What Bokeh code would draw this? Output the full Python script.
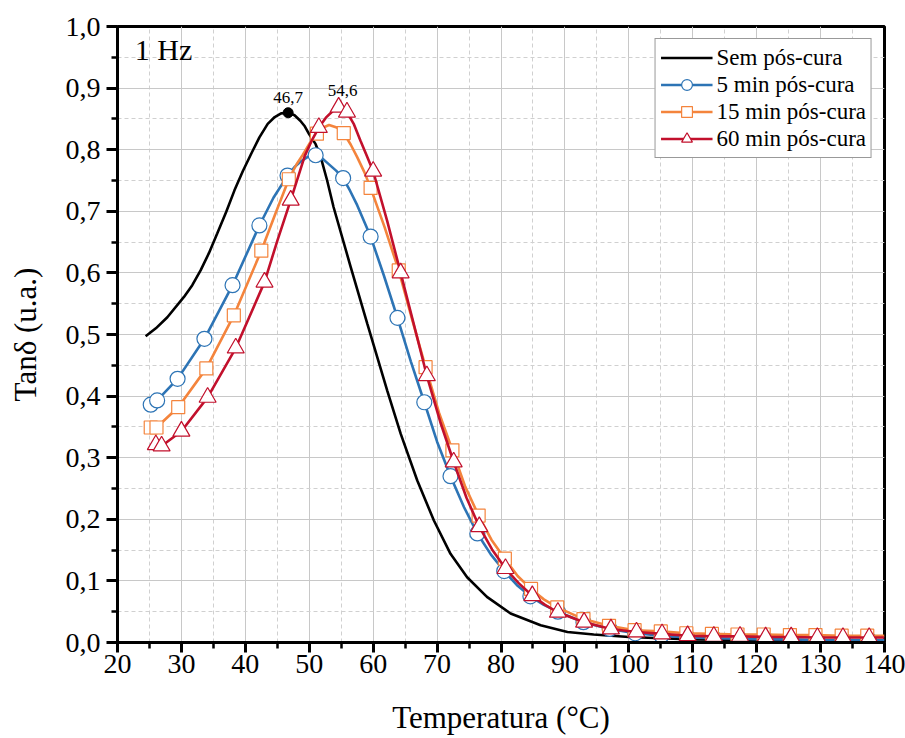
from bokeh.plotting import figure
from bokeh.models import FixedTicker, CustomJSTickFormatter, Legend, LegendItem, Label
from bokeh.embed import file_html
from bokeh.resources import INLINE
from bokeh.core.properties import value

# ---------------- data ----------------
x_ticks = [20, 30, 40, 50, 60, 70, 80, 90, 100, 110, 120, 130, 140]
x_minor = [25, 35, 45, 55, 65, 75, 85, 95, 105, 115, 125, 135]
y_ticks = [0.0, 0.1, 0.2, 0.3, 0.4, 0.5, 0.6, 0.7, 0.8, 0.9, 1.0]
y_minor = [0.05, 0.15, 0.25, 0.35, 0.45, 0.55, 0.65, 0.75, 0.85, 0.95]

series_labels = ["Sem pós-cura", "5 min pós-cura", "15 min pós-cura", "60 min pós-cura"]

# Sem pós-cura (line only)
sem_x = [24.4, 26.0, 27.8, 30.4, 31.7, 33.0, 34.3, 35.6, 37.0, 38.3,
         39.6, 40.9, 42.2, 43.5, 44.6, 45.6, 46.7, 47.7, 48.6, 49.3,
         50.0, 51.0, 51.8, 52.8, 53.8, 56.5, 59.1, 62.2, 64.3, 66.9,
         69.5, 72.1, 74.7, 77.8, 81.5, 86.2, 90.4, 94.5, 100, 105,
         110, 120, 130, 140]
sem_y = [0.497, 0.510, 0.528, 0.561, 0.580, 0.604, 0.632, 0.664, 0.699, 0.734,
         0.765, 0.793, 0.820, 0.842, 0.853, 0.859, 0.860, 0.856, 0.847, 0.838,
         0.825, 0.809, 0.788, 0.750, 0.707, 0.609, 0.517, 0.409, 0.339, 0.263,
         0.198, 0.144, 0.106, 0.074, 0.047, 0.028, 0.017, 0.013, 0.009, 0.007,
         0.005, 0.004, 0.003, 0.003]
sem_peak_x = [46.7]
sem_peak_y = [0.860]

# 5 min pós-cura (markers)
m5_x = [25.2, 26.2, 29.4, 33.6, 38.0, 42.2, 46.6, 51.0, 55.3, 59.6,
        63.8, 68.0, 72.1, 76.3, 80.5, 84.6, 88.9, 92.9, 97.0, 101.0,
        105.1, 109.2, 113.3, 117.3, 121.4, 125.4, 129.5, 133.5, 137.6]
m5_y = [0.386, 0.393, 0.428, 0.493, 0.580, 0.677, 0.758, 0.791, 0.754, 0.659,
        0.527, 0.390, 0.270, 0.177, 0.116, 0.075, 0.050, 0.033, 0.022, 0.015,
        0.011, 0.008, 0.007, 0.006, 0.005, 0.005, 0.004, 0.004, 0.004]
# 5 min pós-cura, extra points of the curve between markers
m5_extra_x = [44.4, 47.7, 48.8, 49.9, 52.0, 53.0, 54.2, 56.4, 57.5, 61.7,
              65.9, 70.0, 74.2, 78.4, 82.5, 86.7, 140.0]
m5_extra_y = [0.722, 0.772, 0.782, 0.789, 0.786, 0.777, 0.766, 0.733, 0.710, 0.595,
              0.456, 0.326, 0.220, 0.143, 0.093, 0.061, 0.004]

# 15 min pós-cura (markers)
m15_x = [25.2, 26.1, 29.5, 33.9, 38.2, 42.5, 46.8, 51.2, 55.4, 59.6,
         64.0, 68.2, 72.4, 76.5, 80.6, 84.7, 88.8, 92.9, 96.9, 100.9,
         105.0, 109.0, 113.0, 117.0, 121.1, 125.2, 129.2, 133.3, 137.3]
m15_y = [0.349, 0.349, 0.382, 0.445, 0.531, 0.636, 0.752, 0.826, 0.827, 0.738,
         0.604, 0.447, 0.312, 0.206, 0.136, 0.087, 0.057, 0.038, 0.027, 0.020,
         0.018, 0.015, 0.014, 0.013, 0.013, 0.012, 0.012, 0.011, 0.011]
m15_extra_x = [44.7, 48.0, 49.0, 50.1, 52.2, 53.1, 54.3, 56.5, 57.5, 58.6,
               61.8, 66.1, 70.3, 74.4, 78.5, 82.6, 86.7, 140.0]
m15_extra_y = [0.696, 0.776, 0.792, 0.811, 0.836, 0.840, 0.836, 0.808, 0.788, 0.764,
               0.674, 0.524, 0.373, 0.253, 0.167, 0.108, 0.070, 0.011]

# 60 min pós-cura (markers)
m60_x = [26.0, 26.9, 30.0, 34.1, 38.5, 43.0, 47.1, 51.5, 54.6, 55.9,
         60.0, 64.3, 68.4, 72.6, 76.6, 80.7, 84.9, 88.9, 93.0, 97.2,
         101.2, 105.2, 109.2, 113.3, 117.4, 121.4, 125.4, 129.5, 133.5, 137.6]
m60_y = [0.321, 0.319, 0.343, 0.398, 0.478, 0.585, 0.718, 0.836, 0.869, 0.861,
         0.765, 0.600, 0.433, 0.293, 0.188, 0.120, 0.076, 0.049, 0.033, 0.022,
         0.017, 0.014, 0.011, 0.010, 0.010, 0.009, 0.009, 0.008, 0.008, 0.008]
m60_extra_x = [45.0, 49.3, 50.4, 52.6, 53.6, 57.0, 58.0, 59.0, 62.2, 66.4,
               70.5, 74.6, 78.6, 82.8, 86.9, 140.0]
m60_extra_y = [0.652, 0.790, 0.815, 0.852, 0.862, 0.841, 0.815, 0.790, 0.684, 0.515,
               0.358, 0.235, 0.151, 0.096, 0.061, 0.008]
m60_peak_x = [54.6]
m60_peak_y = [0.869]

FONT = "Liberation Serif"
C_BLACK = "#000000"
C_BLUE = "#2D74B5"
C_ORANGE = "#F4843C"
C_RED = "#C2102C"


def merged(xs, ys, ex, ey):
    pts = sorted(list(zip(xs, ys)) + list(zip(ex, ey)))
    return [a for a, _ in pts], [b for _, b in pts]


p = figure(width=905, height=738, x_range=(20, 140), y_range=(0, 1.0),
           output_backend="svg", toolbar_location=None,
           min_border_left=117, min_border_right=21, min_border_top=26, min_border_bottom=96)
p.background_fill_color = "white"
p.border_fill_color = "white"
p.outline_line_color = "black"
p.outline_line_width = 3

# axes
p.xaxis.ticker = FixedTicker(ticks=x_ticks, minor_ticks=x_minor)
p.yaxis.ticker = FixedTicker(ticks=y_ticks, minor_ticks=y_minor)
p.xaxis.formatter = CustomJSTickFormatter(code="return tick.toFixed(0);")
p.yaxis.formatter = CustomJSTickFormatter(code="return tick.toFixed(1).replace('.', ',');")
for ax in (p.xaxis, p.yaxis):
    ax.axis_line_width = 3
    ax.axis_line_color = "black"
    ax.major_tick_line_width = 3
    ax.major_tick_line_color = "black"
    ax.minor_tick_line_width = 2.5
    ax.minor_tick_line_color = "black"
    ax.major_tick_in = 0
    ax.minor_tick_in = 0
    ax.major_label_text_font = FONT
    ax.major_label_text_font_size = "28px"
    ax.major_label_text_color = "black"
    ax.axis_label_text_font = FONT
    ax.axis_label_text_font_size = "31px"
    ax.axis_label_text_font_style = "normal"
    ax.axis_label_text_color = "black"
p.xaxis.major_tick_out = 10
p.xaxis.minor_tick_out = 6
p.yaxis.major_tick_out = 11
p.yaxis.minor_tick_out = 6
p.xaxis.major_label_standoff = 2
p.yaxis.major_label_standoff = 6
p.xaxis.axis_label = "Temperatura (°C)"
p.yaxis.axis_label = "Tanδ (u.a.)"
p.xaxis.axis_label_standoff = 24
p.yaxis.axis_label_standoff = 20

# grid
for g in (p.xgrid, p.ygrid):
    g.grid_line_color = "#c8c8c8"
    g.grid_line_width = 1
    g.minor_grid_line_color = "#d0d0d0"
    g.minor_grid_line_width = 1
    g.minor_grid_line_dash = "4 3"

LW = 2.6
# Sem pós-cura
r_sem = p.line(sem_x, sem_y, line_color=C_BLACK, line_width=LW)
p.scatter(sem_peak_x, sem_peak_y, marker="circle", size=10, fill_color="black", line_color="black")

# 5 min
lx, ly = merged(m5_x, m5_y, m5_extra_x, m5_extra_y)
r5l = p.line(lx, ly, line_color=C_BLUE, line_width=LW)
r5m = p.scatter(m5_x, m5_y, marker="circle", size=15, fill_color="white",
                line_color=C_BLUE, line_width=1.2)

# 15 min
lx, ly = merged(m15_x, m15_y, m15_extra_x, m15_extra_y)
r15l = p.line(lx, ly, line_color=C_ORANGE, line_width=LW)
r15m = p.scatter(m15_x, m15_y, marker="square", size=13, fill_color="white",
                 line_color=C_ORANGE, line_width=1.2)

# 60 min
lx, ly = merged(m60_x, m60_y, m60_extra_x, m60_extra_y)
r60l = p.line(lx, ly, line_color=C_RED, line_width=LW)
r60m = p.scatter(m60_x, m60_y, marker="triangle", size=17, fill_color="white",
                 line_color=C_RED, line_width=1.2)

# peak labels
p.text(sem_peak_x, sem_peak_y, text=[f"{v:.1f}".replace(".", ",") for v in sem_peak_x],
       y_offset=-15, text_align="center", text_baseline="alphabetic",
       text_font=value(FONT), text_font_size="17px", text_color="black")
p.text(m60_peak_x, m60_peak_y, text=[f"{v:.1f}".replace(".", ",") for v in m60_peak_x],
       x_offset=4, y_offset=-17, text_align="center", text_baseline="alphabetic",
       text_font=value(FONT), text_font_size="17px", text_color="black")

# frequency label
p.add_layout(Label(x=22.7, y=0.962, text="1 Hz", text_font=FONT, text_font_size="30px",
                   text_baseline="alphabetic", text_color="black"))

legend = Legend(items=[
    LegendItem(label=series_labels[0], renderers=[r_sem]),
    LegendItem(label=series_labels[1], renderers=[r5l, r5m]),
    LegendItem(label=series_labels[2], renderers=[r15l, r15m]),
    LegendItem(label=series_labels[3], renderers=[r60l, r60m]),
], location="top_right")
legend.margin = 12
legend.padding = 5
legend.spacing = 0
legend.glyph_width = 52
legend.glyph_height = 27
legend.label_height = 27
legend.label_standoff = 4
legend.label_text_font = FONT
legend.label_text_font_size = "23px"
legend.label_text_color = "black"
legend.border_line_color = "#333333"
legend.border_line_width = 1.5
legend.background_fill_color = "white"
legend.background_fill_alpha = 1.0
p.add_layout(legend)

open("out.html", "w").write(file_html(p, INLINE))
